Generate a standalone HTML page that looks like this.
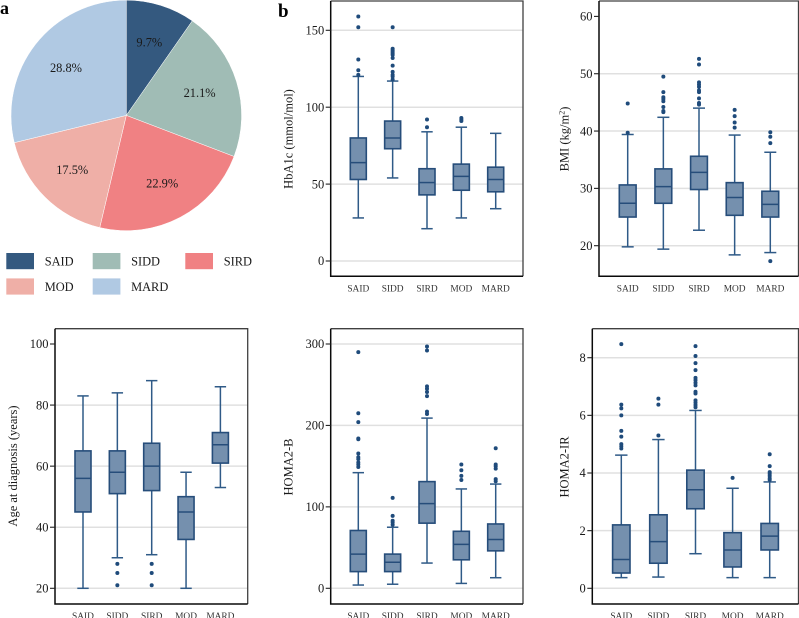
<!DOCTYPE html>
<html lang="en">
<head>
<meta charset="utf-8">
<title>Diabetes subgroup distribution and clinical variables</title>
<style>
html,body{margin:0;padding:0;background:#fff;width:799px;height:618px;overflow:hidden}
svg{display:block;filter:blur(0.3px)}
text{font-family:"Liberation Serif",serif;fill:#1a1a1a}
</style>
</head>
<body>
<svg id="figure" width="799" height="618" viewBox="0 0 799 618" xmlns="http://www.w3.org/2000/svg"></svg>
<script>
// ---- Data ----
const categories = ['SAID', 'SIDD', 'SIRD', 'MOD', 'MARD'];
const pieValues = [9.7, 21.1, 22.9, 17.5, 28.8];
const pieColors = ['#34597f', '#a0bcb5', '#f08183', '#efafa7', '#b0c9e3'];

const hba1cTicks = [0, 50, 100, 150];
const hba1cGrid = [0, 50, 100, 150];
const hba1cStats = [[28, 53, 64, 80, 120], [54, 73, 80, 91, 117], [21, 43, 51, 60, 84], [28, 46, 55, 63, 87], [34, 45, 53, 61, 83]];
const hba1cOutliers = [[121, 124, 131, 152, 159], [118, 120, 121, 123, 127, 132, 134, 135, 136, 137, 138, 152], [87, 92], [91, 92, 93], []];

const bmiTicks = [20, 30, 40, 50, 60];
const bmiGrid = [20, 30, 40, 50];
const bmiStats = [[19.8, 25, 27.4, 30.6, 39.4], [19.4, 27.4, 30.3, 33.4, 42.4], [22.7, 29.8, 32.8, 35.6, 44], [18.4, 25.3, 28.4, 31, 39.3], [18.8, 25, 27.2, 29.5, 36.3]];
const bmiOutliers = [[39.7, 44.8], [43.3, 43.5, 44.2, 45.2, 45.6, 45.9, 46.8, 49.5], [44.6, 44.9, 45.7, 46.8, 47.1, 47.7, 48.1, 48.5, 51.6, 52.6], [40.6, 41.5, 42.6, 43.7], [17.3, 37.9, 39, 39.8]];

const ageTicks = [20, 40, 60, 80, 100];
const ageGrid = [20, 40, 60, 80];
const ageStats = [[20, 45, 56, 65, 83], [30, 51, 58, 65, 84], [31, 52, 60, 67.5, 88], [20, 36, 45, 50, 58], [53, 61, 67, 71, 86]];
const ageOutliers = [[], [21, 25, 28], [21, 25, 28], [], []];

const homaBTicks = [0, 100, 200, 300];
const homaBGrid = [0, 100, 200, 300];
const homaBStats = [[4, 20.5, 42, 71, 142], [5, 20.5, 32, 42, 75], [31, 80, 104, 131, 209], [6, 35, 54, 70, 122], [13, 46, 60, 79, 128]];
const homaBOutliers = [[149, 152, 154.5, 158.6, 161, 165.6, 183, 184, 204, 215, 290], [78, 81, 83, 89, 111], [214, 217, 236, 241, 245, 248, 292, 297], [133, 138, 145, 152], [131.5, 134, 147, 150, 152, 172]];

const homaIrTicks = [0, 2, 4, 6, 8];
const homaIrGrid = [0, 2, 4, 6, 8];
const homaIrStats = [[0.37, 0.53, 1, 2.2, 4.62], [0.39, 0.87, 1.62, 2.55, 5.16], [1.2, 2.76, 3.42, 4.1, 6.17], [0.37, 0.74, 1.33, 1.93, 3.47], [0.37, 1.33, 1.81, 2.25, 3.69]];
const homaIrOutliers = [[4.85, 4.93, 5, 5.26, 5.46, 6, 6.24, 6.37, 8.47], [5.3, 6.37, 6.58], [6.28, 6.36, 6.44, 6.52, 6.76, 6.82, 7.04, 7.13, 7.22, 7.3, 7.57, 7.81, 8.06, 8.4], [3.83], [3.76, 3.82, 3.9, 3.97, 4.03, 4.24, 4.65]];

// ---- Drawing helpers ----
const NS = 'http://www.w3.org/2000/svg';
const svg = document.getElementById('figure');

function make(parent, tag, attrs, txt) {
  const n = document.createElementNS(NS, tag);
  for (const k in attrs) n.setAttribute(k, attrs[k]);
  if (txt !== undefined) n.textContent = txt;
  parent.appendChild(n);
  return n;
}
function slug(s) {
  return s.toLowerCase().replace(/[^a-z0-9]+/g, '-').replace(/^-|-$/g, '');
}

// ---- Pie ----
function drawPie() {
  const cx = 126.3, cy = 115.4, r = 115.3, labelR = 76.7;
  const total = pieValues.reduce((a, b) => a + b, 0);
  const g = make(svg, 'g', {});
  
  
  let start = 0;
  pieValues.forEach((v, i) => {
    const sweep = v / total * Math.PI * 2;
    const end = start + sweep;
    const x0 = cx + r * Math.sin(start), y0 = cy - r * Math.cos(start);
    const x1 = cx + r * Math.sin(end), y1 = cy - r * Math.cos(end);
    const large = sweep > Math.PI ? 1 : 0;
    const d = 'M' + cx + ' ' + cy + 'L' + x0 + ' ' + y0 + 'A' + r + ' ' + r + ' 0 ' + large + ' 1 ' + x1 + ' ' + y1 + 'Z';
    const slice = make(g, 'path', { d: d, fill: pieColors[i], stroke: '#fff', 'stroke-width': 0.5 });
    
    
    const mid = start + sweep / 2;
    const lbl = make(g, 'text', {
      x: cx + labelR * Math.sin(mid),
      y: cy - labelR * Math.cos(mid) + 4.2,
      'text-anchor': 'middle', 'font-size': 12.4
    }, v.toFixed(1) + '%');
    
    
    start = end;
  });
}

// ---- Legend ----
function drawLegend() {
  const g = make(svg, 'g', {});
  
  
  const colX = [6.3, 92.7, 185.3];
  const rowY = [253, 278.4];
  categories.forEach((c, i) => {
    const col = i % 3, row = Math.floor(i / 3);
    const sw = make(g, 'rect', { x: colX[col], y: rowY[row], width: 27.7, height: 16.2, fill: pieColors[i] });
    
    
    const t = make(g, 'text', { x: colX[col] + 38.4, y: rowY[row] + 12.6, 'font-size': 12.4 }, c);
    
    
  });
}

// ---- Box plot panel ----
function drawPanel(p) {
  const g = make(svg, 'g', {});
  
  

  const yOf = v => p.py0 + (v - p.v0) / (p.v1 - p.v0) * (p.py1 - p.py0);
  const xOf = i => p.cat0 + i * p.step;

  make(g, 'rect', { x: p.left, y: p.top, width: p.right - p.left, height: p.bottom - p.top, fill: '#fff' });

  p.grid.forEach(v => {
    const ln = make(g, 'line', { x1: p.left, x2: p.right, y1: yOf(v), y2: yOf(v), stroke: '#e0e0e0', 'stroke-width': 1.5 });
    
    
  });

  const frameTop = make(g, 'path', { d: 'M' + p.left + ' ' + p.top + 'H' + p.right + 'V' + p.bottom, fill: 'none', stroke: '#404040', 'stroke-width': 1.3 });
  
  
  const frameAxis = make(g, 'path', { d: 'M' + p.left + ' ' + p.top + 'V' + p.bottom + 'H' + p.right, fill: 'none', stroke: '#0a0a0a', 'stroke-width': 1.5 });
  
  

  p.ticks.forEach(v => {
    const tk = make(g, 'line', { x1: p.left - 5, x2: p.left, y1: yOf(v), y2: yOf(v), stroke: '#222', 'stroke-width': 1.1 });
    
    
    const lb = make(g, 'text', { x: p.left - 6.5, y: yOf(v) + 4.2, 'text-anchor': 'end', 'font-size': 12.5 }, String(v));
    
    
  });

  const title = make(g, 'text', {
    transform: 'translate(' + p.titleX + ' ' + p.titleY + ') rotate(-90)',
    'text-anchor': 'middle', 'font-size': 12.5
  });
  
  
  title.textContent = p.title;
  if (p.sup) {
    make(title, 'tspan', { dy: -4, 'font-size': 8 }, p.sup);
    make(title, 'tspan', { dy: 4 }, ')');
  }

  categories.forEach((c, i) => {
    const x = xOf(i);
    const s = p.stats[i];
    const low = s[0], q1 = s[1], med = s[2], q3 = s[3], high = s[4];
    const grp = make(g, 'g', {});
    
    
    const ws = { stroke: '#2f5a87', 'stroke-width': 1.5 };
    make(grp, 'line', Object.assign({ x1: x, x2: x, y1: yOf(high), y2: yOf(q3) }, ws));
    make(grp, 'line', Object.assign({ x1: x, x2: x, y1: yOf(q1), y2: yOf(low) }, ws));
    make(grp, 'line', Object.assign({ x1: x - p.cap, x2: x + p.cap, y1: yOf(high), y2: yOf(high) }, ws));
    make(grp, 'line', Object.assign({ x1: x - p.cap, x2: x + p.cap, y1: yOf(low), y2: yOf(low) }, ws));
    make(grp, 'rect', { x: x - p.half, y: yOf(q3), width: p.half * 2, height: yOf(q1) - yOf(q3), fill: '#7590ae', stroke: '#264d7a', 'stroke-width': 1.6 });
    make(grp, 'line', { x1: x - p.half, x2: x + p.half, y1: yOf(med), y2: yOf(med), stroke: '#264d7a', 'stroke-width': 1.5 });
    p.outliers[i].forEach(v => {
      const dot = make(grp, 'circle', { cx: x, cy: yOf(v), r: 2, fill: '#1f4b7b' });
      
      
    });
    const xl = make(g, 'text', { x: x, y: p.bottom + 15, 'text-anchor': 'middle', 'font-size': 9.4, style: 'fill:#333' }, c);
    
    
  });
}

drawPie();
drawLegend();

drawPanel({ name: 'hba1c', title: 'HbA1c (mmol/mol)', ticks: hba1cTicks, grid: hba1cGrid, stats: hba1cStats, outliers: hba1cOutliers,
  left: 330.7, right: 523, top: 1, bottom: 276.3, v0: 0, py0: 261, v1: 150, py1: 30.3, cat0: 358.3, step: 34.35, half: 8, cap: 5.7, titleX: 292.5, titleY: 139 });
drawPanel({ name: 'bmi', title: 'BMI (kg/m', sup: '2', ticks: bmiTicks, grid: bmiGrid, stats: bmiStats, outliers: bmiOutliers,
  left: 599, right: 798.5, top: 1, bottom: 276.3, v0: 20, py0: 245.7, v1: 60, py1: 16.4, cat0: 627.7, step: 35.65, half: 8.4, cap: 6, titleX: 568.5, titleY: 139 });
drawPanel({ name: 'age-at-diagnosis', title: 'Age at diagnosis (years)', ticks: ageTicks, grid: ageGrid, stats: ageStats, outliers: ageOutliers,
  left: 55, right: 247.7, top: 328.7, bottom: 604, v0: 20, py0: 588.3, v1: 100, py1: 344, cat0: 83, step: 34.35, half: 8, cap: 5.7, titleX: 17, titleY: 466 });
drawPanel({ name: 'homa2-b', title: 'HOMA2-B', ticks: homaBTicks, grid: homaBGrid, stats: homaBStats, outliers: homaBOutliers,
  left: 330.7, right: 523, top: 328.7, bottom: 604, v0: 0, py0: 588.3, v1: 300, py1: 344, cat0: 358.3, step: 34.35, half: 8, cap: 5.7, titleX: 292.5, titleY: 467 });
drawPanel({ name: 'homa2-ir', title: 'HOMA2-IR', ticks: homaIrTicks, grid: homaIrGrid, stats: homaIrStats, outliers: homaIrOutliers,
  left: 592.3, right: 798.5, top: 328.7, bottom: 604, v0: 0, py0: 588.3, v1: 8, py1: 357.7, cat0: 621.3, step: 37.1, half: 8.7, cap: 6.2, titleX: 568.5, titleY: 467 });

const panelA = make(svg, 'text', { x: 0, y: 14, 'font-size': 18, 'font-weight': 'bold', style: 'fill:#000' }, 'a');


const panelB = make(svg, 'text', { x: 278, y: 17, 'font-size': 19, 'font-weight': 'bold', style: 'fill:#000' }, 'b');


</script>
</body>
</html>
